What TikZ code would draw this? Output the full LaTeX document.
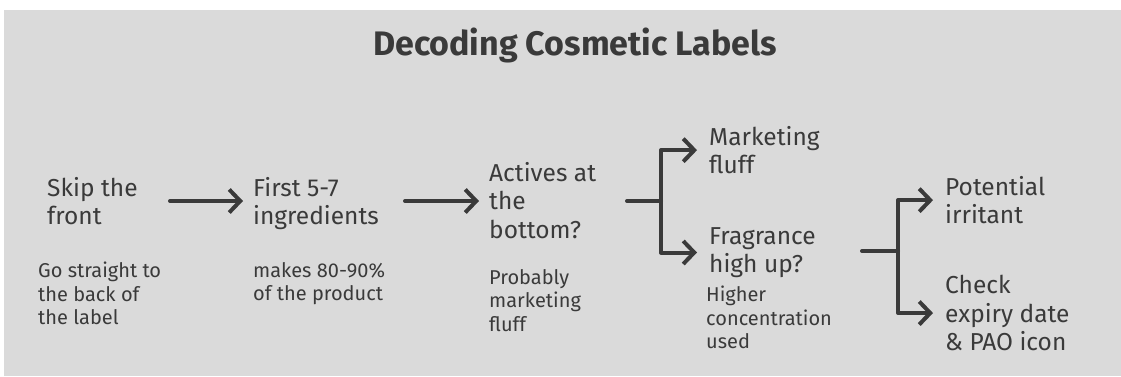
\documentclass[tikz,border=0pt]{standalone}
\usepackage{fontspec}
\setmainfont{Fira Sans}
\usetikzlibrary{arrows.meta}
\definecolor{bgc}{HTML}{DADADA}
\definecolor{ink}{HTML}{3A3A3A}
\tikzset{
  main/.style={anchor=north west, inner sep=0pt, align=left, text=ink, font=\fontsize{24.5}{28.5}\selectfont},
  sub/.style={anchor=north west, inner sep=0pt, align=left, text=ink, font=\fontsize{20}{23.5}\selectfont},
  conn/.style={draw=ink, line width=4pt, line cap=round, line join=round},
  arr/.style={conn, -{Straight Barb[length=11pt,width=23pt,line width=4pt]}}
}
\begin{document}
\begin{tikzpicture}[x=1pt,y=-1pt]
\useasboundingbox (0,0) rectangle (1121,376);
\fill[white] (0,0) rectangle (1121,376);
\fill[bgc] (4,10) rectangle (1121,376);
\node[anchor=center, inner sep=0pt, text=ink, font=\fontsize{34}{38}\selectfont\bfseries] (title) at (575,45) {Decoding Cosmetic Labels};
% main nodes
\node[main] (skip) at (47,177) {Skip the\\front};
\node[main] (first) at (253,177) {First 5-7\\ingredients};
\node[main] (actives) at (489,162) {Actives at\\the\\bottom?};
\node[main] (marketing) at (709,126) {Marketing\\fluff};
\node[main] (fragrance) at (709,227) {Fragrance\\high up?};
\node[main] (potential) at (945,176) {Potential\\irritant};
\node[main] (check) at (945,275) {Check\\expiry date\\\& PAO icon};
% sub notes
\node[sub] (goback) at (38,262) {Go straight to\\the back of\\the label};
\node[sub] (makes) at (253,262) {makes 80-90\%\\of the product};
\node[sub] (probably) at (489,269) {Probably\\marketing\\fluff};
\node[sub] (higher) at (706,286) {Higher\\concentration\\used};
% connectors
\coordinate (a1s) at (170,201);
\coordinate (a2s) at (405,201);
\draw[arr, shorten >=10pt] (a1s) -- (a1s -| first.west);
\draw[arr, shorten >=10pt] (a2s) -- (a2s -| actives.west);
\coordinate (b1s) at (627,201);
\coordinate (j1) at (661,201);
\draw[conn] (b1s) -- (j1);
\draw[arr, shorten >=12pt] (j1) |- (marketing.west);
\draw[arr, shorten >=12pt] (j1) |- (fragrance.west);
\coordinate (b2s) at (862,251);
\coordinate (j2) at (898,251);
\draw[conn] (b2s) -- (j2);
\draw[arr, shorten >=12pt] (j2) |- (potential.west);
\draw[arr, shorten >=12pt] (j2) |- (check.west);
\end{tikzpicture}
\end{document}
